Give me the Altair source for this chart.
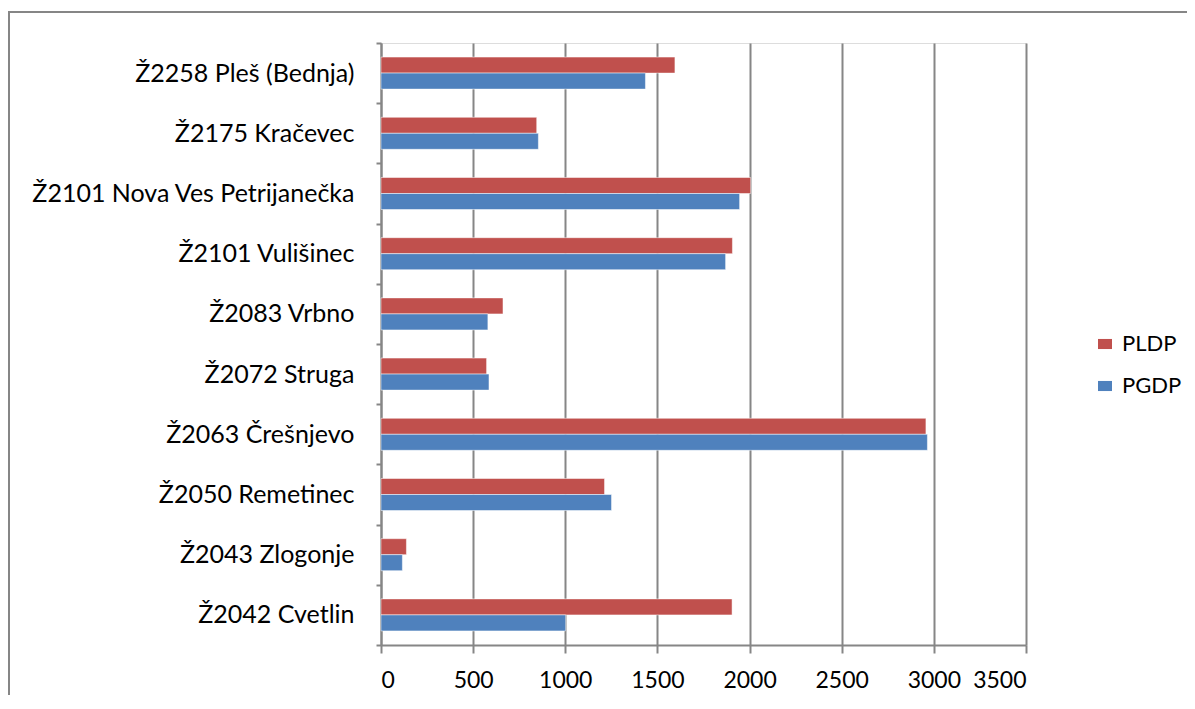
import altair as alt
import pandas as pd

categories = [
    "Ž2258 Pleš (Bednja)",
    "Ž2175 Kračevec",
    "Ž2101 Nova Ves Petrijanečka",
    "Ž2101 Vulišinec",
    "Ž2083 Vrbno",
    "Ž2072 Struga",
    "Ž2063 Črešnjevo",
    "Ž2050 Remetinec",
    "Ž2043 Zlogonje",
    "Ž2042 Cvetlin",
]
pldp = [1595, 845, 2006, 1907, 662, 573, 2957, 1213, 138, 1905]
pgdp = [1435, 854, 1946, 1870, 580, 586, 2965, 1251, 116, 1002]
series = ["PLDP", "PGDP"]
colors = ["#C0504D", "#4F81BD"]
x_ticks = [0, 500, 1000, 1500, 2000, 2500, 3000, 3500]

rows = []
for c, a, b in zip(categories, pldp, pgdp):
    rows.append({"cat": c, "series": "PLDP", "value": a})
    rows.append({"cat": c, "series": "PGDP", "value": b})
df = pd.DataFrame(rows)

FONT = "Lato"
GRID = "#868686"

bars = alt.Chart(df).mark_bar(stroke="white", strokeWidth=0.5).encode(
    x=alt.X(
        "value:Q",
        scale=alt.Scale(domain=[0, 3500], nice=False, zero=True),
        axis=alt.Axis(
            values=x_ticks,
            format="d",
            title=None,
            grid=True,
            gridColor=GRID,
            gridWidth=2,
            domainColor=GRID,
            domainWidth=2,
            tickColor=GRID,
            tickWidth=2,
            tickSize=8,
            labelFont=FONT,
            labelFontSize=23,
            labelColor="black",
            labelPadding=16,
        ),
    ),
    y=alt.Y(
        "cat:N",
        sort=categories,
        scale=alt.Scale(paddingInner=0, paddingOuter=0),
        axis=alt.Axis(
            title=None,
            grid=False,
            tickBand="extent",
            domainColor=GRID,
            domainWidth=2,
            tickColor=GRID,
            tickWidth=2,
            tickSize=5,
            labelFont=FONT,
            labelFontSize=25,
            labelColor="black",
            labelPadding=22,
            labelLimit=400,
        ),
    ),
    yOffset=alt.YOffset(
        "series:N",
        sort=series,
        scale=alt.Scale(paddingInner=0, paddingOuter=0.88),
    ),
    color=alt.Color(
        "series:N",
        sort=series,
        scale=alt.Scale(domain=series, range=colors),
        legend=alt.Legend(
            title=None,
            orient="none",
            legendX=713,
            legendY=290,
            symbolType="M-1,-0.72H1V0.72H-1Z",
            symbolSize=196,
            symbolStrokeWidth=0,
            labelFont=FONT,
            labelFontSize=22,
            labelColor="black",
            rowPadding=20,
            labelOffset=6,
            padding=0,
        ),
    ),
)

border_top = alt.Chart(pd.DataFrame({"k": [0]})).mark_rule(
    color=GRID, strokeWidth=2
).encode(x=alt.value(-373), x2=alt.value(820), y=alt.value(-31))
border_left = alt.Chart(pd.DataFrame({"k": [0]})).mark_rule(
    color=GRID, strokeWidth=2
).encode(x=alt.value(-372), y=alt.value(-31), y2=alt.value(700))

chart = (
    alt.layer(border_top, border_left, bars)
    .properties(
        width=645,
        height=602,
        autosize=alt.AutoSizeParams(type="none"),
        padding={"left": 373, "top": 35, "right": 161, "bottom": 50},
    )
    .configure_view(stroke=None)
    .configure(background="white")
)

chart.save("out.html", embed_options={"renderer": "svg", "actions": False})
